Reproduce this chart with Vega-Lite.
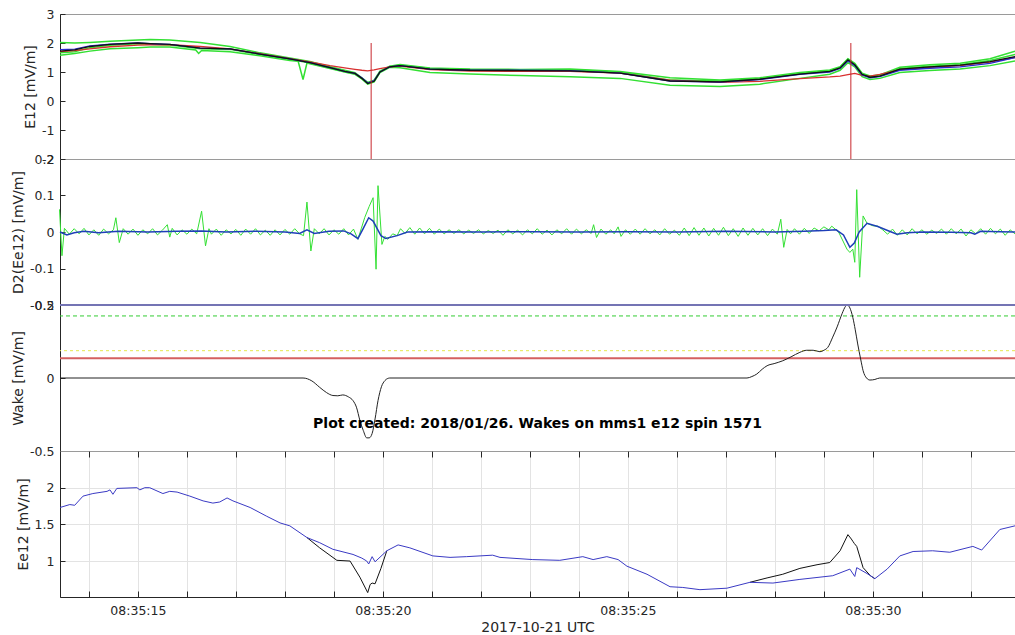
{
"$schema": "https://vega.github.io/schema/vega-lite/v6.json",
"padding": {"left": 11, "top": 7, "right": 0, "bottom": 0},
"background": "white",
"spacing": 0,
"bounds": "flush",
"datasets": {
"e12": [
{"t":13.41,"v":2.02,"s":"g1"},{"t":13.71,"v":2.0,"s":"g1"},{"t":14.02,"v":2.02,"s":"g1"},{"t":14.43,"v":2.06,"s":"g1"},{"t":15.0,"v":2.1,"s":"g1"},{"t":15.25,"v":2.12,"s":"g1"},{"t":15.65,"v":2.1,"s":"g1"},{"t":16.27,"v":2.02,"s":"g1"},{"t":16.88,"v":1.88,"s":"g1"},{"t":17.49,"v":1.66,"s":"g1"},{"t":18.1,"v":1.48,"s":"g1"},{"t":18.51,"v":1.36,"s":"g1"},{"t":18.92,"v":1.18,"s":"g1"},{"t":19.22,"v":1.06,"s":"g1"},{"t":19.43,"v":0.98,"s":"g1"},{"t":19.57,"v":0.8,"s":"g1"},{"t":19.69,"v":0.64,"s":"g1"},{"t":19.82,"v":0.72,"s":"g1"},{"t":19.94,"v":1.03,"s":"g1"},{"t":20.14,"v":1.2,"s":"g1"},{"t":20.35,"v":1.26,"s":"g1"},{"t":20.96,"v":1.14,"s":"g1"},{"t":21.78,"v":1.1,"s":"g1"},{"t":22.8,"v":1.09,"s":"g1"},{"t":23.82,"v":1.1,"s":"g1"},{"t":24.84,"v":1.02,"s":"g1"},{"t":25.86,"v":0.8,"s":"g1"},{"t":26.88,"v":0.72,"s":"g1"},{"t":27.69,"v":0.8,"s":"g1"},{"t":28.51,"v":0.98,"s":"g1"},{"t":29.12,"v":1.07,"s":"g1"},{"t":29.33,"v":1.18,"s":"g1"},{"t":29.49,"v":1.46,"s":"g1"},{"t":29.63,"v":1.3,"s":"g1"},{"t":29.78,"v":0.96,"s":"g1"},{"t":29.94,"v":0.86,"s":"g1"},{"t":30.14,"v":0.9,"s":"g1"},{"t":30.55,"v":1.16,"s":"g1"},{"t":31.16,"v":1.25,"s":"g1"},{"t":31.78,"v":1.3,"s":"g1"},{"t":32.39,"v":1.46,"s":"g1"},{"t":32.9,"v":1.72,"s":"g1"},
{"t":13.41,"v":1.58,"s":"g2"},{"t":13.71,"v":1.64,"s":"g2"},{"t":14.02,"v":1.72,"s":"g2"},{"t":14.43,"v":1.8,"s":"g2"},{"t":15.0,"v":1.84,"s":"g2"},{"t":15.25,"v":1.86,"s":"g2"},{"t":15.65,"v":1.86,"s":"g2"},{"t":16.18,"v":1.76,"s":"g2"},{"t":16.24,"v":1.64,"s":"g2"},{"t":16.3,"v":1.74,"s":"g2"},{"t":16.88,"v":1.7,"s":"g2"},{"t":17.49,"v":1.56,"s":"g2"},{"t":18.1,"v":1.4,"s":"g2"},{"t":18.27,"v":1.37,"s":"g2"},{"t":18.37,"v":0.74,"s":"g2"},{"t":18.45,"v":1.31,"s":"g2"},{"t":18.51,"v":1.28,"s":"g2"},{"t":18.92,"v":1.12,"s":"g2"},{"t":19.22,"v":1.0,"s":"g2"},{"t":19.43,"v":0.92,"s":"g2"},{"t":19.57,"v":0.76,"s":"g2"},{"t":19.69,"v":0.58,"s":"g2"},{"t":19.82,"v":0.66,"s":"g2"},{"t":19.94,"v":0.98,"s":"g2"},{"t":20.14,"v":1.16,"s":"g2"},{"t":20.35,"v":1.15,"s":"g2"},{"t":20.96,"v":0.98,"s":"g2"},{"t":21.78,"v":0.93,"s":"g2"},{"t":22.8,"v":0.88,"s":"g2"},{"t":23.82,"v":0.84,"s":"g2"},{"t":24.84,"v":0.78,"s":"g2"},{"t":25.86,"v":0.54,"s":"g2"},{"t":26.88,"v":0.5,"s":"g2"},{"t":27.69,"v":0.58,"s":"g2"},{"t":28.51,"v":0.78,"s":"g2"},{"t":29.12,"v":0.92,"s":"g2"},{"t":29.33,"v":1.06,"s":"g2"},{"t":29.49,"v":1.32,"s":"g2"},{"t":29.63,"v":1.18,"s":"g2"},{"t":29.78,"v":0.84,"s":"g2"},{"t":29.94,"v":0.74,"s":"g2"},{"t":30.14,"v":0.78,"s":"g2"},{"t":30.55,"v":0.98,"s":"g2"},{"t":31.16,"v":1.05,"s":"g2"},{"t":31.78,"v":1.1,"s":"g2"},{"t":32.39,"v":1.22,"s":"g2"},{"t":32.9,"v":1.38,"s":"g2"},
{"t":13.41,"v":1.66,"s":"g3"},{"t":13.71,"v":1.7,"s":"g3"},{"t":14.02,"v":1.84,"s":"g3"},{"t":14.43,"v":1.92,"s":"g3"},{"t":15.0,"v":1.97,"s":"g3"},{"t":15.25,"v":1.96,"s":"g3"},{"t":15.65,"v":1.93,"s":"g3"},{"t":16.27,"v":1.8,"s":"g3"},{"t":16.88,"v":1.78,"s":"g3"},{"t":17.49,"v":1.6,"s":"g3"},{"t":18.1,"v":1.44,"s":"g3"},{"t":18.51,"v":1.31,"s":"g3"},{"t":18.92,"v":1.14,"s":"g3"},{"t":19.22,"v":1.01,"s":"g3"},{"t":19.43,"v":0.94,"s":"g3"},{"t":19.57,"v":0.77,"s":"g3"},{"t":19.69,"v":0.6,"s":"g3"},{"t":19.82,"v":0.68,"s":"g3"},{"t":19.94,"v":1.0,"s":"g3"},{"t":20.14,"v":1.19,"s":"g3"},{"t":20.35,"v":1.23,"s":"g3"},{"t":20.96,"v":1.12,"s":"g3"},{"t":21.78,"v":1.08,"s":"g3"},{"t":22.8,"v":1.08,"s":"g3"},{"t":23.82,"v":1.08,"s":"g3"},{"t":24.84,"v":1.0,"s":"g3"},{"t":25.86,"v":0.72,"s":"g3"},{"t":26.88,"v":0.69,"s":"g3"},{"t":27.69,"v":0.77,"s":"g3"},{"t":28.51,"v":0.95,"s":"g3"},{"t":29.12,"v":1.04,"s":"g3"},{"t":29.33,"v":1.16,"s":"g3"},{"t":29.49,"v":1.44,"s":"g3"},{"t":29.63,"v":1.27,"s":"g3"},{"t":29.78,"v":0.93,"s":"g3"},{"t":29.94,"v":0.82,"s":"g3"},{"t":30.14,"v":0.86,"s":"g3"},{"t":30.55,"v":1.12,"s":"g3"},{"t":31.16,"v":1.2,"s":"g3"},{"t":31.78,"v":1.25,"s":"g3"},{"t":32.39,"v":1.4,"s":"g3"},{"t":32.9,"v":1.6,"s":"g3"},
{"t":13.41,"v":1.7,"s":"red"},{"t":13.71,"v":1.74,"s":"red"},{"t":14.02,"v":1.8,"s":"red"},{"t":14.43,"v":1.87,"s":"red"},{"t":15.0,"v":1.93,"s":"red"},{"t":15.25,"v":1.94,"s":"red"},{"t":15.65,"v":1.94,"s":"red"},{"t":16.27,"v":1.88,"s":"red"},{"t":16.88,"v":1.8,"s":"red"},{"t":17.49,"v":1.63,"s":"red"},{"t":18.1,"v":1.46,"s":"red"},{"t":18.51,"v":1.35,"s":"red"},{"t":18.92,"v":1.22,"s":"red"},{"t":19.22,"v":1.14,"s":"red"},{"t":19.43,"v":1.09,"s":"red"},{"t":19.57,"v":1.06,"s":"red"},{"t":19.69,"v":1.04,"s":"red"},{"t":19.82,"v":1.07,"s":"red"},{"t":19.94,"v":1.12,"s":"red"},{"t":20.14,"v":1.18,"s":"red"},{"t":20.35,"v":1.2,"s":"red"},{"t":20.96,"v":1.08,"s":"red"},{"t":21.78,"v":1.03,"s":"red"},{"t":22.8,"v":1.02,"s":"red"},{"t":23.82,"v":1.02,"s":"red"},{"t":24.84,"v":0.96,"s":"red"},{"t":25.86,"v":0.72,"s":"red"},{"t":26.88,"v":0.64,"s":"red"},{"t":27.69,"v":0.68,"s":"red"},{"t":28.51,"v":0.77,"s":"red"},{"t":29.12,"v":0.83,"s":"red"},{"t":29.33,"v":0.86,"s":"red"},{"t":29.49,"v":0.91,"s":"red"},{"t":29.63,"v":0.95,"s":"red"},{"t":29.78,"v":0.88,"s":"red"},{"t":29.94,"v":0.86,"s":"red"},{"t":30.14,"v":0.92,"s":"red"},{"t":30.55,"v":1.08,"s":"red"},{"t":31.16,"v":1.16,"s":"red"},{"t":31.78,"v":1.22,"s":"red"},{"t":32.39,"v":1.34,"s":"red"},{"t":32.9,"v":1.5,"s":"red"},
{"t":13.41,"v":1.77,"s":"blue"},{"t":13.71,"v":1.79,"s":"blue"},{"t":14.02,"v":1.9,"s":"blue"},{"t":14.43,"v":1.96,"s":"blue"},{"t":15.0,"v":2.0,"s":"blue"},{"t":15.25,"v":1.98,"s":"blue"},{"t":15.65,"v":1.95,"s":"blue"},{"t":16.27,"v":1.82,"s":"blue"},{"t":16.88,"v":1.8,"s":"blue"},{"t":17.49,"v":1.62,"s":"blue"},{"t":18.1,"v":1.45,"s":"blue"},{"t":18.51,"v":1.32,"s":"blue"},{"t":18.92,"v":1.15,"s":"blue"},{"t":19.22,"v":1.02,"s":"blue"},{"t":19.43,"v":0.95,"s":"blue"},{"t":19.57,"v":0.8,"s":"blue"},{"t":19.69,"v":0.62,"s":"blue"},{"t":19.82,"v":0.7,"s":"blue"},{"t":19.94,"v":1.0,"s":"blue"},{"t":20.14,"v":1.18,"s":"blue"},{"t":20.35,"v":1.22,"s":"blue"},{"t":20.96,"v":1.1,"s":"blue"},{"t":21.78,"v":1.06,"s":"blue"},{"t":22.8,"v":1.06,"s":"blue"},{"t":23.82,"v":1.05,"s":"blue"},{"t":24.84,"v":0.96,"s":"blue"},{"t":25.86,"v":0.69,"s":"blue"},{"t":26.88,"v":0.65,"s":"blue"},{"t":27.69,"v":0.74,"s":"blue"},{"t":28.51,"v":0.92,"s":"blue"},{"t":29.12,"v":1.0,"s":"blue"},{"t":29.33,"v":1.12,"s":"blue"},{"t":29.49,"v":1.38,"s":"blue"},{"t":29.63,"v":1.22,"s":"blue"},{"t":29.78,"v":0.9,"s":"blue"},{"t":29.94,"v":0.8,"s":"blue"},{"t":30.14,"v":0.84,"s":"blue"},{"t":30.55,"v":1.06,"s":"blue"},{"t":31.16,"v":1.13,"s":"blue"},{"t":31.78,"v":1.18,"s":"blue"},{"t":32.39,"v":1.3,"s":"blue"},{"t":32.9,"v":1.5,"s":"blue"},
{"t":13.41,"v":1.72,"s":"black"},{"t":13.71,"v":1.76,"s":"black"},{"t":14.02,"v":1.88,"s":"black"},{"t":14.43,"v":1.95,"s":"black"},{"t":15.0,"v":2.0,"s":"black"},{"t":15.25,"v":1.98,"s":"black"},{"t":15.65,"v":1.95,"s":"black"},{"t":16.27,"v":1.82,"s":"black"},{"t":16.88,"v":1.8,"s":"black"},{"t":17.49,"v":1.62,"s":"black"},{"t":18.1,"v":1.45,"s":"black"},{"t":18.51,"v":1.32,"s":"black"},{"t":18.92,"v":1.15,"s":"black"},{"t":19.22,"v":1.02,"s":"black"},{"t":19.43,"v":0.95,"s":"black"},{"t":19.57,"v":0.78,"s":"black"},{"t":19.69,"v":0.6,"s":"black"},{"t":19.82,"v":0.68,"s":"black"},{"t":19.94,"v":1.0,"s":"black"},{"t":20.14,"v":1.18,"s":"black"},{"t":20.35,"v":1.22,"s":"black"},{"t":20.96,"v":1.1,"s":"black"},{"t":21.78,"v":1.06,"s":"black"},{"t":22.8,"v":1.05,"s":"black"},{"t":23.82,"v":1.04,"s":"black"},{"t":24.84,"v":0.96,"s":"black"},{"t":25.86,"v":0.69,"s":"black"},{"t":26.88,"v":0.66,"s":"black"},{"t":27.69,"v":0.75,"s":"black"},{"t":28.51,"v":0.93,"s":"black"},{"t":29.12,"v":1.02,"s":"black"},{"t":29.33,"v":1.14,"s":"black"},{"t":29.49,"v":1.42,"s":"black"},{"t":29.63,"v":1.25,"s":"black"},{"t":29.78,"v":0.92,"s":"black"},{"t":29.94,"v":0.82,"s":"black"},{"t":30.14,"v":0.86,"s":"black"},{"t":30.55,"v":1.1,"s":"black"},{"t":31.16,"v":1.18,"s":"black"},{"t":31.78,"v":1.24,"s":"black"},{"t":32.39,"v":1.36,"s":"black"},{"t":32.9,"v":1.53,"s":"black"}
],
"events": [{"t":19.76},{"t":29.55}],
"levels": [{"k":"lo","v":0.135},{"k":"mid","v":0.187},{"k":"hi","v":0.425},{"k":"max","v":0.5}],
"d2green": [
{"t":13.4,"v":0.062},{"t":13.45,"v":-0.065},{"t":13.5,"v":0.01},{"t":13.6,"v":-0.006},{"t":13.7,"v":0.009},{"t":13.8,"v":-0.005},{"t":13.9,"v":0.01},{"t":14.0,"v":-0.008},{"t":14.1,"v":0.006},{"t":14.2,"v":-0.009},{"t":14.3,"v":0.008},{"t":14.4,"v":-0.005},{"t":14.5,"v":0.006},{"t":14.55,"v":0.039},{"t":14.62,"v":-0.029},{"t":14.7,"v":0.009},{"t":14.8,"v":-0.006},{"t":14.9,"v":0.008},{"t":15.0,"v":-0.009},{"t":15.1,"v":0.006},{"t":15.2,"v":-0.005},{"t":15.3,"v":0.009},{"t":15.4,"v":-0.008},{"t":15.5,"v":0.005},{"t":15.6,"v":0.02},{"t":15.65,"v":-0.014},{"t":15.7,"v":0.01},{"t":15.8,"v":-0.008},{"t":15.9,"v":0.006},{"t":16.0,"v":-0.006},{"t":16.1,"v":0.008},{"t":16.2,"v":-0.005},{"t":16.3,"v":0.057},{"t":16.38,"v":-0.038},{"t":16.45,"v":0.009},{"t":16.5,"v":-0.006},{"t":16.6,"v":0.008},{"t":16.7,"v":-0.009},{"t":16.8,"v":0.006},{"t":16.9,"v":-0.005},{"t":17.0,"v":0.007},{"t":17.1,"v":-0.009},{"t":17.2,"v":0.008},{"t":17.3,"v":-0.006},{"t":17.4,"v":0.009},{"t":17.5,"v":-0.008},{"t":17.6,"v":0.005},{"t":17.7,"v":-0.009},{"t":17.8,"v":0.006},{"t":17.9,"v":-0.008},{"t":18.0,"v":0.007},{"t":18.1,"v":-0.006},{"t":18.2,"v":0.009},{"t":18.3,"v":-0.005},{"t":18.38,"v":-0.01},{"t":18.45,"v":0.082},{"t":18.53,"v":-0.052},{"t":18.6,"v":0.009},{"t":18.7,"v":-0.005},{"t":18.8,"v":0.009},{"t":18.9,"v":-0.008},{"t":19.0,"v":0.006},{"t":19.1,"v":-0.006},{"t":19.2,"v":0.009},{"t":19.3,"v":-0.008},{"t":19.4,"v":0.008},{"t":19.49,"v":-0.02},{"t":19.56,"v":0.01},{"t":19.63,"v":0.04},{"t":19.72,"v":0.07},{"t":19.8,"v":0.094},{"t":19.86,"v":-0.102},{"t":19.9,"v":0.127},{"t":19.98,"v":-0.034},{"t":20.04,"v":-0.012},{"t":20.1,"v":-0.02},{"t":20.14,"v":-0.014},{"t":20.2,"v":-0.005},{"t":20.29,"v":-0.01},{"t":20.36,"v":0.009},{"t":20.45,"v":-0.004},{"t":20.55,"v":0.012},{"t":20.65,"v":-0.006},{"t":20.75,"v":0.011},{"t":20.85,"v":-0.005},{"t":20.95,"v":0.01},{"t":21.05,"v":-0.006},{"t":21.15,"v":0.008},{"t":21.25,"v":-0.005},{"t":21.35,"v":0.006},{"t":21.45,"v":-0.004},{"t":21.55,"v":0.006},{"t":21.65,"v":-0.005},{"t":21.75,"v":0.005},{"t":21.85,"v":-0.004},{"t":21.95,"v":0.006},{"t":22.05,"v":-0.005},{"t":22.15,"v":0.004},{"t":22.25,"v":-0.004},{"t":22.35,"v":0.005},{"t":22.45,"v":-0.009},{"t":22.55,"v":0.006},{"t":22.65,"v":-0.005},{"t":22.75,"v":0.005},{"t":22.85,"v":-0.008},{"t":22.95,"v":0.006},{"t":23.05,"v":-0.005},{"t":23.15,"v":0.009},{"t":23.25,"v":-0.006},{"t":23.35,"v":0.005},{"t":23.45,"v":-0.008},{"t":23.55,"v":0.006},{"t":23.65,"v":-0.005},{"t":23.75,"v":0.009},{"t":23.85,"v":-0.006},{"t":23.95,"v":0.008},{"t":24.05,"v":-0.005},{"t":24.15,"v":0.006},{"t":24.25,"v":-0.004},{"t":24.3,"v":0.02},{"t":24.36,"v":-0.015},{"t":24.45,"v":0.008},{"t":24.55,"v":-0.006},{"t":24.65,"v":0.006},{"t":24.72,"v":-0.005},{"t":24.8,"v":0.014},{"t":24.86,"v":-0.012},{"t":24.95,"v":0.006},{"t":25.05,"v":-0.006},{"t":25.15,"v":0.008},{"t":25.25,"v":-0.006},{"t":25.35,"v":0.009},{"t":25.45,"v":-0.005},{"t":25.55,"v":0.006},{"t":25.65,"v":-0.008},{"t":25.75,"v":0.009},{"t":25.85,"v":-0.006},{"t":25.95,"v":0.005},{"t":26.05,"v":-0.009},{"t":26.15,"v":0.011},{"t":26.25,"v":-0.01},{"t":26.35,"v":0.012},{"t":26.45,"v":-0.009},{"t":26.55,"v":0.011},{"t":26.65,"v":-0.011},{"t":26.75,"v":0.01},{"t":26.85,"v":-0.009},{"t":26.95,"v":0.013},{"t":27.05,"v":-0.01},{"t":27.15,"v":0.009},{"t":27.25,"v":-0.012},{"t":27.35,"v":0.011},{"t":27.45,"v":-0.009},{"t":27.55,"v":0.01},{"t":27.65,"v":-0.008},{"t":27.75,"v":0.009},{"t":27.85,"v":-0.01},{"t":27.95,"v":0.008},{"t":28.05,"v":-0.006},{"t":28.12,"v":0.035},{"t":28.18,"v":-0.042},{"t":28.25,"v":0.007},{"t":28.32,"v":-0.005},{"t":28.4,"v":0.009},{"t":28.5,"v":-0.006},{"t":28.6,"v":0.01},{"t":28.7,"v":-0.004},{"t":28.8,"v":0.011},{"t":28.9,"v":0.003},{"t":29.0,"v":0.014},{"t":29.1,"v":0.006},{"t":29.16,"v":0.016},{"t":29.3,"v":0.0},{"t":29.47,"v":-0.047},{"t":29.53,"v":-0.056},{"t":29.59,"v":-0.047},{"t":29.63,"v":-0.083},{"t":29.67,"v":0.116},{"t":29.73,"v":-0.124},{"t":29.8,"v":0.044},{"t":29.88,"v":0.024},{"t":30.0,"v":0.017},{"t":30.1,"v":0.016},{"t":30.2,"v":0.006},{"t":30.3,"v":-0.006},{"t":30.4,"v":0.008},{"t":30.5,"v":-0.009},{"t":30.6,"v":0.006},{"t":30.7,"v":-0.008},{"t":30.8,"v":0.009},{"t":30.9,"v":-0.005},{"t":31.0,"v":0.006},{"t":31.1,"v":-0.006},{"t":31.2,"v":0.005},{"t":31.3,"v":-0.004},{"t":31.4,"v":0.008},{"t":31.5,"v":-0.006},{"t":31.6,"v":0.009},{"t":31.7,"v":-0.005},{"t":31.8,"v":0.008},{"t":31.9,"v":-0.011},{"t":32.0,"v":0.006},{"t":32.1,"v":-0.005},{"t":32.2,"v":0.009},{"t":32.3,"v":-0.006},{"t":32.4,"v":0.01},{"t":32.5,"v":-0.005},{"t":32.6,"v":0.008},{"t":32.7,"v":-0.009},{"t":32.8,"v":0.006},{"t":32.9,"v":-0.005}
],
"d2blue": [
{"t":13.41,"v":0.0},{"t":13.55,"v":-0.008},{"t":13.7,"v":-0.002},{"t":13.9,"v":0.002},{"t":14.2,"v":-0.002},{"t":14.6,"v":0.002},{"t":15.2,"v":0.0},{"t":15.8,"v":0.002},{"t":16.3,"v":0.003},{"t":16.8,"v":0.0},{"t":17.4,"v":0.002},{"t":18.0,"v":0.0},{"t":18.3,"v":-0.004},{"t":18.45,"v":0.006},{"t":18.6,"v":-0.004},{"t":18.9,"v":0.002},{"t":19.2,"v":0.003},{"t":19.35,"v":-0.005},{"t":19.49,"v":-0.018},{"t":19.6,"v":0.01},{"t":19.71,"v":0.039},{"t":19.8,"v":0.03},{"t":19.88,"v":0.01},{"t":19.96,"v":-0.01},{"t":20.06,"v":-0.018},{"t":20.29,"v":-0.01},{"t":20.5,"v":0.0},{"t":21.0,"v":0.001},{"t":22.0,"v":0.0},{"t":23.0,"v":0.001},{"t":24.0,"v":0.0},{"t":25.0,"v":0.001},{"t":26.0,"v":0.0},{"t":27.0,"v":0.002},{"t":28.0,"v":0.0},{"t":28.6,"v":0.002},{"t":29.0,"v":0.004},{"t":29.25,"v":0.006},{"t":29.4,"v":-0.008},{"t":29.53,"v":-0.042},{"t":29.62,"v":-0.03},{"t":29.72,"v":0.0},{"t":29.88,"v":0.024},{"t":30.1,"v":0.015},{"t":30.3,"v":0.004},{"t":30.49,"v":-0.006},{"t":30.7,"v":-0.002},{"t":31.0,"v":0.0},{"t":31.6,"v":-0.001},{"t":32.0,"v":-0.002},{"t":32.08,"v":-0.006},{"t":32.2,"v":0.002},{"t":32.6,"v":0.001},{"t":32.9,"v":0.0}
],
"wake": [
{"t":13.41,"v":0},{"t":18.37,"v":0},{"t":18.55,"v":-0.02},{"t":18.71,"v":-0.064},{"t":18.85,"v":-0.1},{"t":18.98,"v":-0.12},{"t":19.08,"v":-0.122},{"t":19.18,"v":-0.116},{"t":19.3,"v":-0.13},{"t":19.39,"v":-0.155},{"t":19.46,"v":-0.2},{"t":19.53,"v":-0.29},{"t":19.6,"v":-0.36},{"t":19.67,"v":-0.41},{"t":19.72,"v":-0.41},{"t":19.78,"v":-0.38},{"t":19.84,"v":-0.28},{"t":19.9,"v":-0.155},{"t":19.97,"v":-0.06},{"t":20.04,"v":-0.018},{"t":20.1,"v":-0.003},{"t":20.14,"v":0},{"t":27.43,"v":0},{"t":27.53,"v":0.01},{"t":27.63,"v":0.027},{"t":27.74,"v":0.06},{"t":27.84,"v":0.084},{"t":28.0,"v":0.1},{"t":28.16,"v":0.118},{"t":28.33,"v":0.145},{"t":28.51,"v":0.176},{"t":28.65,"v":0.19},{"t":28.78,"v":0.19},{"t":28.92,"v":0.18},{"t":29.0,"v":0.19},{"t":29.08,"v":0.21},{"t":29.18,"v":0.28},{"t":29.27,"v":0.35},{"t":29.37,"v":0.44},{"t":29.44,"v":0.49},{"t":29.48,"v":0.5},{"t":29.53,"v":0.48},{"t":29.59,"v":0.415},{"t":29.64,"v":0.33},{"t":29.69,"v":0.233},{"t":29.75,"v":0.13},{"t":29.8,"v":0.05},{"t":29.87,"v":0.0},{"t":29.94,"v":-0.014},{"t":30.04,"v":-0.01},{"t":30.14,"v":0},{"t":32.9,"v":0}
],
"ee12blue": [
{"t":13.41,"v":1.73},{"t":13.61,"v":1.77},{"t":13.71,"v":1.76},{"t":13.88,"v":1.885},{"t":14.08,"v":1.92},{"t":14.37,"v":1.95},{"t":14.43,"v":1.97},{"t":14.49,"v":1.91},{"t":14.57,"v":1.99},{"t":14.98,"v":2.0},{"t":15.04,"v":1.97},{"t":15.14,"v":2.0},{"t":15.24,"v":2.0},{"t":15.51,"v":1.92},{"t":15.65,"v":1.95},{"t":15.8,"v":1.94},{"t":16.06,"v":1.885},{"t":16.33,"v":1.82},{"t":16.53,"v":1.79},{"t":16.67,"v":1.805},{"t":16.82,"v":1.86},{"t":16.94,"v":1.82},{"t":17.29,"v":1.73},{"t":17.63,"v":1.61},{"t":17.9,"v":1.52},{"t":18.1,"v":1.48},{"t":18.45,"v":1.32},{"t":18.71,"v":1.25},{"t":18.98,"v":1.16},{"t":19.39,"v":1.09},{"t":19.57,"v":1.04},{"t":19.67,"v":1.0},{"t":19.71,"v":0.96},{"t":19.78,"v":1.06},{"t":19.84,"v":0.99},{"t":20.08,"v":1.14},{"t":20.31,"v":1.22},{"t":20.55,"v":1.18},{"t":21.02,"v":1.07},{"t":21.37,"v":1.05},{"t":21.71,"v":1.06},{"t":22.24,"v":1.08},{"t":22.39,"v":1.05},{"t":23.06,"v":1.02},{"t":23.61,"v":1.01},{"t":24.08,"v":1.06},{"t":24.29,"v":1.02},{"t":24.57,"v":1.06},{"t":24.8,"v":1.02},{"t":24.98,"v":0.93},{"t":25.39,"v":0.82},{"t":25.86,"v":0.65},{"t":26.12,"v":0.64},{"t":26.47,"v":0.61},{"t":27.02,"v":0.63},{"t":27.49,"v":0.71},{"t":27.96,"v":0.7},{"t":28.51,"v":0.75},{"t":29.18,"v":0.8},{"t":29.53,"v":0.89},{"t":29.63,"v":0.79},{"t":29.67,"v":0.91},{"t":29.88,"v":0.83},{"t":30.04,"v":0.76},{"t":30.29,"v":0.89},{"t":30.55,"v":1.07},{"t":30.82,"v":1.13},{"t":31.22,"v":1.14},{"t":31.57,"v":1.12},{"t":32.04,"v":1.2},{"t":32.22,"v":1.15},{"t":32.59,"v":1.43},{"t":32.9,"v":1.48}
],
"ee12black": [
{"t":18.45,"v":1.32,"seg":1},{"t":18.71,"v":1.18,"seg":1},{"t":19.06,"v":1.01,"seg":1},{"t":19.33,"v":1.0,"seg":1},{"t":19.53,"v":0.78,"seg":1},{"t":19.69,"v":0.57,"seg":1},{"t":19.74,"v":0.68,"seg":1},{"t":19.78,"v":0.7,"seg":1},{"t":19.84,"v":0.69,"seg":1},{"t":19.96,"v":0.9,"seg":1},{"t":20.08,"v":1.14,"seg":1},
{"t":27.49,"v":0.71,"seg":2},{"t":27.84,"v":0.77,"seg":2},{"t":28.16,"v":0.82,"seg":2},{"t":28.51,"v":0.9,"seg":2},{"t":28.86,"v":0.95,"seg":2},{"t":29.12,"v":0.98,"seg":2},{"t":29.33,"v":1.14,"seg":2},{"t":29.49,"v":1.36,"seg":2},{"t":29.56,"v":1.3,"seg":2},{"t":29.59,"v":1.27,"seg":2},{"t":29.62,"v":1.24,"seg":2},{"t":29.67,"v":1.2,"seg":2},{"t":29.8,"v":0.91,"seg":2},{"t":29.95,"v":0.8,"seg":2},{"t":30.04,"v":0.76,"seg":2}
]
},
"vconcat": [
{
"width": 955, "height": 145,
"layer": [
{"data": {"name": "e12"}, "transform": [{"filter": "datum.s == 'g1' || datum.s == 'g2' || datum.s == 'g3'"}],
 "mark": {"type": "line", "color": "#33e033", "strokeWidth": 1.5},
 "encoding": {
  "x": {"field": "t", "type": "quantitative", "scale": {"domain": [13.41, 32.9], "nice": false, "zero": false}, "axis": {"title": null, "labels": false, "ticks": false, "grid": false}},
  "y": {"field": "v", "type": "quantitative", "scale": {"domain": [-2, 3], "nice": false, "zero": false}, "axis": {"title": "E12 [mV/m]", "values": [-2, -1, 0, 1, 2, 3], "tickCount": 20, "labelExpr": "datum.value + ''", "labelOverlap": false, "tickSize": -5, "labelPadding": 11}},
  "detail": {"field": "s"}}},
{"data": {"name": "e12"}, "transform": [{"filter": "datum.s == 'red'"}],
 "mark": {"type": "line", "color": "#d83030", "strokeWidth": 1.3},
 "encoding": {"x": {"field": "t", "type": "quantitative"}, "y": {"field": "v", "type": "quantitative"}}},
{"data": {"name": "e12"}, "transform": [{"filter": "datum.s == 'blue'"}],
 "mark": {"type": "line", "color": "#2b2bd0", "strokeWidth": 1.3},
 "encoding": {"x": {"field": "t", "type": "quantitative"}, "y": {"field": "v", "type": "quantitative"}}},
{"data": {"name": "e12"}, "transform": [{"filter": "datum.s == 'black'"}],
 "mark": {"type": "line", "color": "#111111", "strokeWidth": 1.3},
 "encoding": {"x": {"field": "t", "type": "quantitative"}, "y": {"field": "v", "type": "quantitative"}}},
{"data": {"name": "events"},
 "mark": {"type": "rule", "color": "#c8282d", "strokeWidth": 1},
 "encoding": {"x": {"field": "t", "type": "quantitative"}, "y": {"datum": 2}, "y2": {"datum": -2}}}
]
},
{
"width": 955, "height": 146,
"layer": [
{"data": {"name": "d2green"},
 "mark": {"type": "line", "color": "#33e033", "strokeWidth": 1},
 "encoding": {
  "x": {"field": "t", "type": "quantitative", "scale": {"domain": [13.41, 32.9], "nice": false, "zero": false}, "axis": {"title": null, "labels": false, "ticks": false, "grid": false}},
  "y": {"field": "v", "type": "quantitative", "scale": {"domain": [-0.2, 0.2], "nice": false, "zero": false}, "axis": {"title": "D2(Ee12) [mV/m]", "values": [-0.2, -0.1, 0, 0.1, 0.2], "tickCount": 20, "labelExpr": "datum.value + ''", "labelOverlap": false, "tickSize": -5, "labelPadding": 11}}}},
{"data": {"name": "d2blue"},
 "mark": {"type": "line", "color": "#1f3fb8", "strokeWidth": 1.5},
 "encoding": {"x": {"field": "t", "type": "quantitative"}, "y": {"field": "v", "type": "quantitative"}}}
]
},
{
"width": 955, "height": 146,
"layer": [
{"data": {"name": "levels"}, "transform": [{"filter": "datum.k == 'lo'"}],
 "mark": {"type": "rule", "color": "#d46060", "strokeWidth": 2},
 "encoding": {"y": {"field": "v", "type": "quantitative", "scale": {"domain": [-0.5, 0.5], "nice": false, "zero": false}, "axis": {"title": "Wake [mV/m]", "values": [-0.5, 0, 0.5], "tickCount": 20, "labelExpr": "datum.value + ''", "labelOverlap": false, "tickSize": -5, "labelPadding": 11}}}},
{"data": {"name": "levels"}, "transform": [{"filter": "datum.k == 'mid'"}],
 "mark": {"type": "rule", "color": "#e6e64a", "strokeWidth": 1, "strokeDash": [3, 3]},
 "encoding": {"y": {"field": "v", "type": "quantitative"}}},
{"data": {"name": "levels"}, "transform": [{"filter": "datum.k == 'hi'"}],
 "mark": {"type": "rule", "color": "#33cc33", "strokeWidth": 1, "strokeDash": [4, 3]},
 "encoding": {"y": {"field": "v", "type": "quantitative"}}},
{"data": {"name": "wake"},
 "mark": {"type": "line", "color": "#222222", "strokeWidth": 1, "interpolate": "monotone"},
 "encoding": {
  "x": {"field": "t", "type": "quantitative", "scale": {"domain": [13.41, 32.9], "nice": false, "zero": false}, "axis": {"title": null, "labels": false, "ticks": false, "grid": false}},
  "y": {"field": "v", "type": "quantitative"}}},
{"data": {"name": "levels"}, "transform": [{"filter": "datum.k == 'max'"}],
 "mark": {"type": "rule", "color": "#7474b4", "strokeWidth": 2},
 "encoding": {"y": {"field": "v", "type": "quantitative"}}}
]
},
{
"width": 955, "height": 146,
"title": {"text": "Plot created: 2018/01/26. Wakes on mms1 e12 spin 1571", "fontSize": 14, "fontWeight": "bold", "color": "#000000", "anchor": "middle", "offset": 20, "font": "DejaVu Sans"},
"resolve": {"axis": {"x": "independent"}},
"layer": [
{"data": {"name": "ee12black"},
 "mark": {"type": "line", "color": "#111111", "strokeWidth": 1},
 "encoding": {
  "x": {"field": "t", "type": "quantitative", "scale": {"domain": [13.41, 32.9], "nice": false, "zero": false}, "axis": {"orient": "bottom", "title": "2017-10-21 UTC", "values": [14,15,16,17,18,19,20,21,22,23,24,25,26,27,28,29,30,31,32], "tickCount": 40, "labelExpr": "datum.value % 5 == 0 ? '08:35:' + datum.value : ''", "labelOverlap": false, "grid": true, "gridColor": "#e3e3e3", "tickSize": -6, "labelPadding": 13, "titlePadding": 4}},
  "y": {"field": "v", "type": "quantitative", "scale": {"domain": [0.51, 2.5], "nice": false, "zero": false}, "axis": {"title": "Ee12 [mV/m]", "values": [1, 1.5, 2], "tickCount": 20, "labelExpr": "datum.value + ''", "labelOverlap": false, "grid": true, "gridColor": "#e3e3e3", "tickSize": -5, "labelPadding": 11}},
  "detail": {"field": "seg"}}},
{"data": {"name": "ee12blue"},
 "mark": {"type": "line", "color": "#3a3ac4", "strokeWidth": 1},
 "encoding": {
  "x": {"field": "t", "type": "quantitative", "axis": {"orient": "top", "title": null, "labels": false, "domain": false, "grid": false, "values": [14,15,16,17,18,19,20,21,22,23,24,25,26,27,28,29,30,31,32], "tickCount": 40, "tickSize": -6}},
  "y": {"field": "v", "type": "quantitative"}}}
]
}
],
"config": {
 "font": "DejaVu Sans",
 "view": {"stroke": "#9a9a9a", "strokeWidth": 1},
 "axis": {"labelFont": "DejaVu Sans", "labelFontSize": 12.5, "labelColor": "#262626", "titleFont": "DejaVu Sans", "titleFontSize": 14, "titleFontWeight": "normal", "titleColor": "#262626", "tickColor": "#262626", "domainColor": "#262626", "labelFlush": false, "labelOverlap": false, "grid": false}
}
}
